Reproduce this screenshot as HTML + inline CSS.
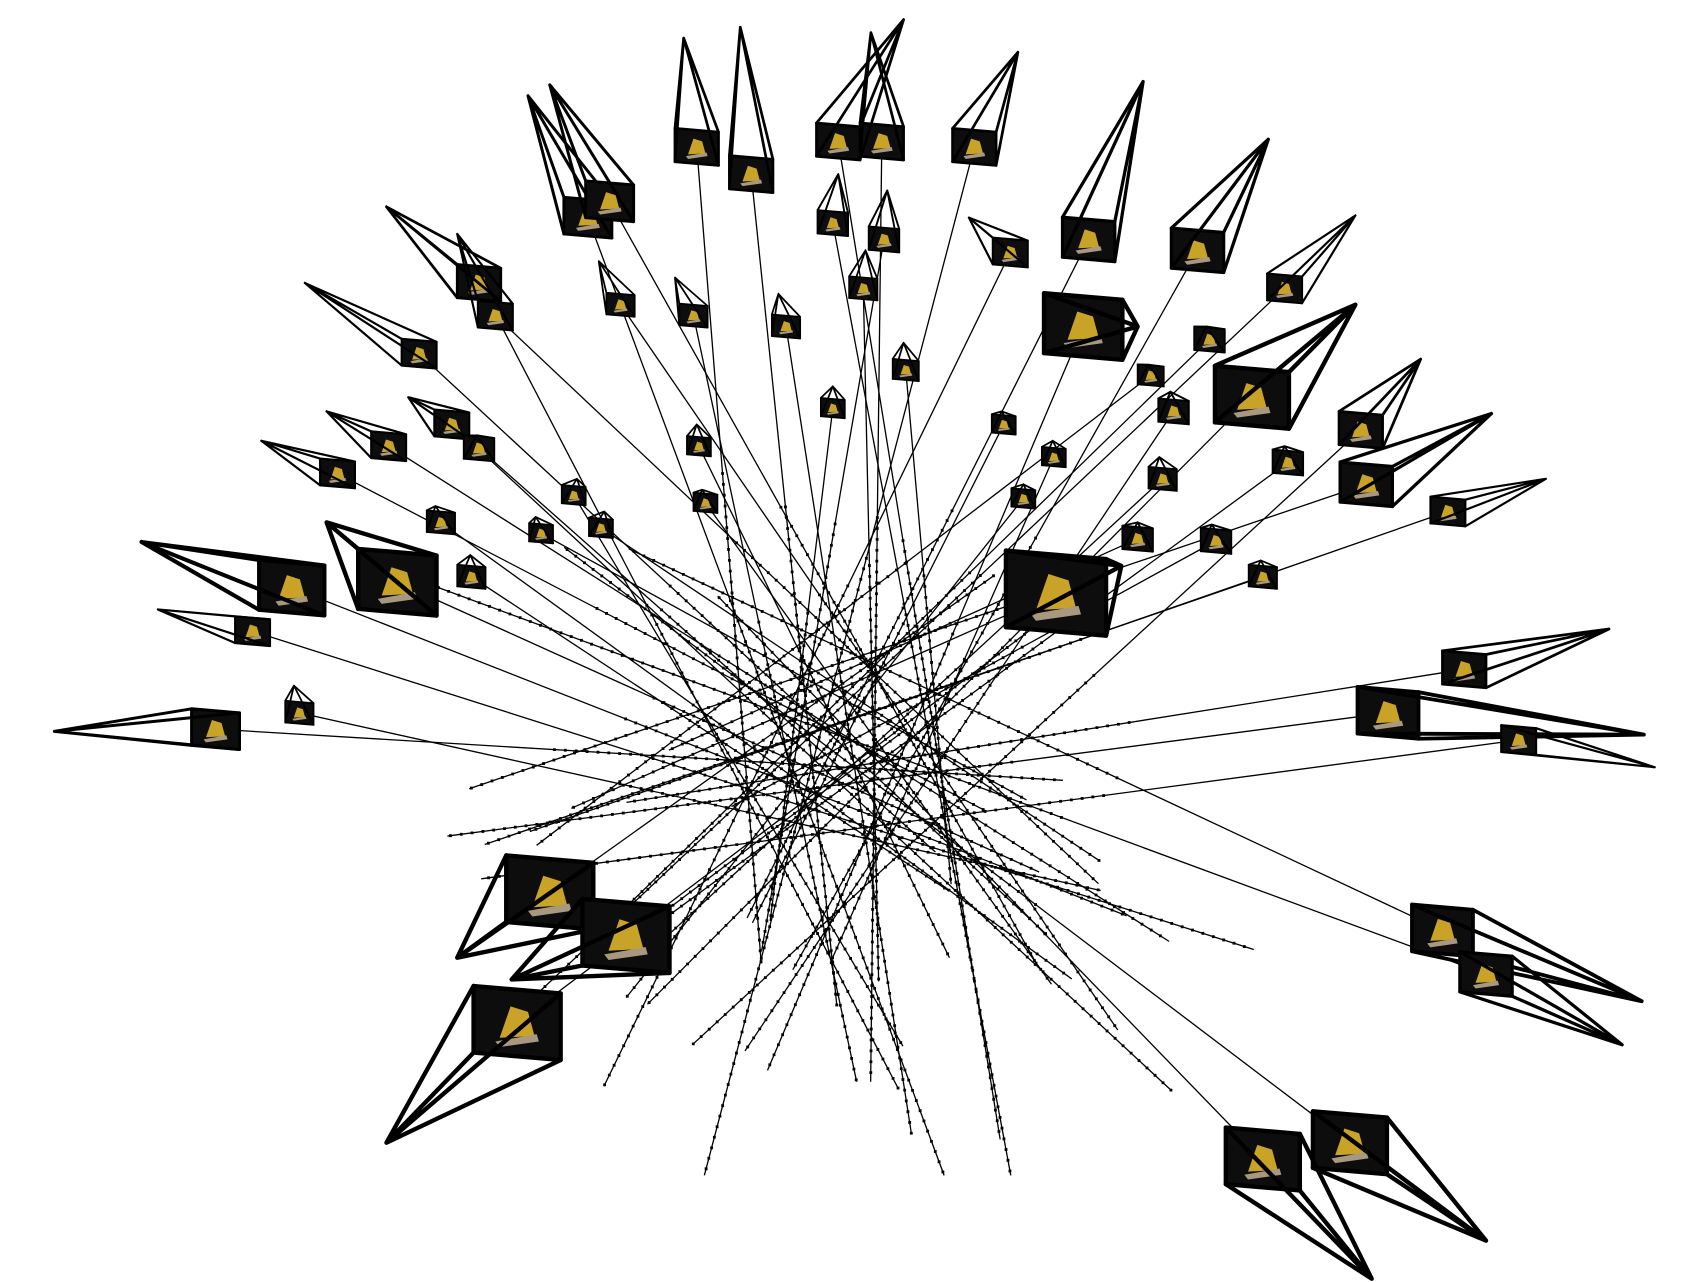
<!DOCTYPE html>
<html><head><meta charset="utf-8"><style>
html,body{margin:0;padding:0;background:#fff;overflow:hidden;}
svg{display:block;}
</style></head><body>
<svg id="viz" width="1707" height="1282" viewBox="0 0 1568 1178" preserveAspectRatio="none" xmlns="http://www.w3.org/2000/svg">
<rect width="1568" height="1178" fill="#fff"/>
<g id="rays"></g>
<g id="cams"></g>
</svg>
<script>
// camera apex positions
const apexX = [628,680,800,830,935,1050,1165,1245,1245,1305,1370,1420,1478,1510,1520,1508,1490,1365,1260,355,420,470,50,130,145,240,280,300,355,485,505,1030,300,1045,
 770,815,795,550,620,715,830,765,640,645,530,492,555,432,400,375,438,920,967,940,1045,1113,1158,1065,1075,1055,1108,1180,890,270,420];
const apexY = [35,25,30,18,48,75,128,198,280,330,380,440,578,675,705,920,960,1140,1175,1050,880,900,672,498,560,405,260,378,190,88,78,520,480,300,
 160,175,230,240,255,270,315,355,390,450,440,475,470,510,465,365,400,378,405,445,480,482,515,420,360,335,300,410,200,630,215];
// image plane centres and half sizes
const imgX = [640,690,810,770,895,1000,1100,1180,1150,1250,1255,1330,1345,1275,1395,1325,1365,1240,1160,475,505,575,198,268,232,310,385,357,440,540,560,970,365,995,
 765,812,793,570,637,722,832,765,642,648,527,497,552,433,405,415,440,922,968,940,1045,1117,1160,1068,1078,1057,1111,1183,928,275,455];
const imgY = [135,160,130,130,135,220,230,265,365,395,445,470,615,655,680,855,895,1050,1065,940,820,860,670,540,580,435,325,410,260,200,185,545,535,300,
 205,220,265,280,290,300,340,375,410,462,455,490,485,530,480,390,412,390,420,458,495,497,530,440,378,345,312,425,232,655,290];
const imgS = [20,20,20,20,20,24,24,16,34,20,24,16,20,28,16,28,24,34,34,40,40,40,22,30,16,16,16,16,20,22,22,46,36,36,
 14,14,13,13,13,13,12,11,11,11,11,11,11,13,13,16,14,11,11,11,14,14,13,13,14,12,14,14,16,13,16];

const NS='http://www.w3.org/2000/svg';
const rays=document.getElementById('rays');
const cams=document.getElementById('cams');
function mk(tag,attrs,parent){const e=document.createElementNS(NS,tag);for(const k in attrs)e.setAttribute(k,attrs[k]);parent.appendChild(e);return e;}
const CX=775,CY=690;
for(let i=0;i<apexX.length;i++){
  const ax=apexX[i],ay=apexY[i],x=imgX[i],y=imgY[i],s=imgS[i];
  const ox=((i*97)%300)-150, oy=((i*53)%260)-110;
  let ex=CX+ox+(CX-x)*0.55, ey=CY+oy+(CY-y)*0.55;
  ey=Math.max(430,Math.min(ey,1080));
  ex=Math.max(390,Math.min(ex,1160));
  const ray=mk('line',{x1:x,y1:y,x2:ex,y2:ey,stroke:'#000','stroke-width':1.2},rays);
  
  
  const L=Math.hypot(ex-x,ey-y),dx=(ex-x)/L,dy=(ey-y)/L;
  let pts='';
  for(let t=L*0.4;t<=L;t+=10){const px=x+dx*t,py=y+dy*t;pts+=`M${(px-1.3).toFixed(1)},${(py-1.3).toFixed(1)}h2.6v2.6h-2.6z`;}
  const dots=mk('path',{d:pts,fill:'#000'},rays);
  
  
  const g=mk('g',{},cams);
  
  
  const h=s*0.85;
  const q=[[x-s,y-h],[x+s,y-h*0.8],[x+s,y+h],[x-s,y+h*0.8]];
  const sw=Math.max(1.6,Math.min(4,s/8));
  mk('polygon',{points:q.map(p=>p.join(',')).join(' '),fill:'#0d0d0d',stroke:'#000','stroke-width':sw,'stroke-linejoin':'round'},g);
  mk('polygon',{points:`${x-s*0.4},${y+h*0.4} ${x-s*0.15},${y-h*0.45} ${x+s*0.25},${y-h*0.3} ${x+s*0.4},${y+h*0.35}`,fill:'#c9a228'},g);
  mk('polygon',{points:`${x-s*0.5},${y+h*0.5} ${x+s*0.45},${y+h*0.3} ${x+s*0.5},${y+h*0.5} ${x-s*0.4},${y+h*0.65}`,fill:'#a89880'},g);
  let d='';q.forEach(p=>{d+=`M${ax},${ay}L${p[0]},${p[1]}`;});
  mk('path',{d:d,stroke:'#000','stroke-width':sw,fill:'none','stroke-linecap':'round'},g);
}
</script>
</body></html>
